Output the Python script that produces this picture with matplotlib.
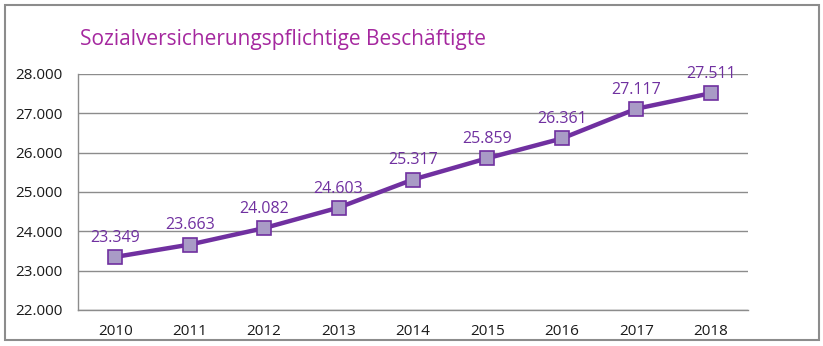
import matplotlib
import matplotlib.pyplot as plt
from matplotlib.patches import Rectangle

matplotlib.use('Agg')

years = ['2010', '2011', '2012', '2013', '2014', '2015', '2016', '2017', '2018']
values = [23349, 23663, 24082, 24603, 25317, 25859, 26361, 27117, 27511]
y_ticks = [22000, 23000, 24000, 25000, 26000, 27000, 28000]
title = 'Sozialversicherungspflichtige Beschäftigte'


def de_fmt(v):
    return f'{v:,.0f}'.replace(',', '.')


plt.rcParams['font.family'] = ['Open Sans', 'DejaVu Sans']

fig = plt.figure(figsize=(8.23, 3.46), dpi=100)
fig.patch.set_facecolor('white')
fig.patches.append(Rectangle((5 / 823, 6 / 346), 814 / 823, 335 / 346,
                             transform=fig.transFigure, fill=False,
                             edgecolor='#8c8c8c', linewidth=1.5))

ax = fig.add_axes([78 / 823, 1 - 310 / 346, 670 / 823, 236 / 346])
xs = [i + 0.5 for i in range(len(years))]
ax.plot(xs, values, color='#7030A0', linewidth=3.2, marker='s', markersize=10,
        markerfacecolor='#A99BC6', markeredgecolor='#7030A0', markeredgewidth=1.2,
        zorder=3)
for x, v in zip(xs, values):
    ax.annotate(de_fmt(v), (x, v), xytext=(0, 8), textcoords='offset points',
                ha='center', va='bottom', color='#7030A0', fontsize=11.5)

ax.set_xlim(0, len(years))
ax.set_ylim(22000, 28000)
ax.set_xticks(xs)
ax.set_xticklabels(years)
ax.set_yticks(y_ticks)
ax.set_yticklabels([de_fmt(t) for t in y_ticks])
ax.tick_params(length=0, labelsize=11, colors='#1a1a1a')
ax.tick_params(axis='y', pad=11)
ax.tick_params(axis='x', pad=10)
ax.grid(axis='y', color='#8c8c8c', linewidth=1)
for s in ['top', 'right']:
    ax.spines[s].set_visible(False)
for s in ['left', 'bottom']:
    ax.spines[s].set_color('#8c8c8c')
    ax.spines[s].set_linewidth(1)

fig.text(80 / 823, 1 - 40 / 346, title, color='#A5289F', fontsize=15,
         ha='left', va='center')

fig.savefig('out.png', dpi=100)
